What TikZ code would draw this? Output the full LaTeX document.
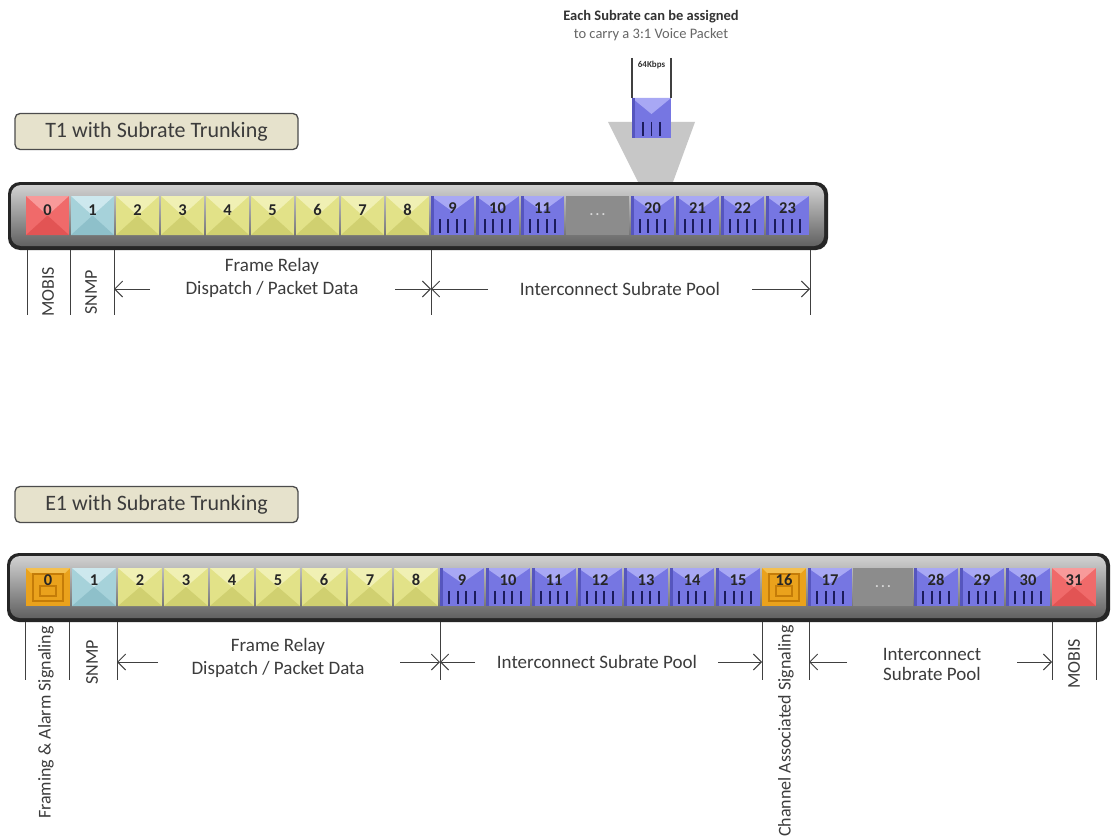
\documentclass[tikz,border=0pt]{standalone}
\usepackage{fontspec}
\setmainfont{Carlito}
\usetikzlibrary{arrows.meta}
\definecolor{txt}{HTML}{3c3c3c}
\definecolor{beige}{HTML}{E6E2CC}
\definecolor{rbase}{HTML}{F06A6A}\definecolor{rtop}{HTML}{F89A9A}\definecolor{rbot}{HTML}{E25454}
\definecolor{cbase}{HTML}{A6D2DA}\definecolor{ctop}{HTML}{CDE8EE}\definecolor{cbot}{HTML}{8EC0CA}
\definecolor{ybase}{HTML}{E2E288}\definecolor{ytop}{HTML}{F0F0B4}\definecolor{ybot}{HTML}{D0D070}
\definecolor{bbase}{HTML}{7676E2}\definecolor{btop}{HTML}{A8A8F4}\definecolor{bdark}{HTML}{5656BE}
\definecolor{obase}{HTML}{EAA21C}\definecolor{otop}{HTML}{F4C050}\definecolor{odark}{HTML}{C47C08}
\definecolor{gapgray}{HTML}{8C8C8C}
\definecolor{navy}{HTML}{1C1C5C}
\tikzset{
  lbl/.style={font=\fontsize{19}{21}\selectfont, text=txt, inner sep=0pt},
  rlbl/.style={font=\fontsize{18}{20}\selectfont, text=txt, inner sep=0pt, rotate=90},
  num/.style={font=\bfseries\fontsize{16.5}{18}\selectfont, text=black!85, inner sep=0pt},
  divider/.style={line width=0.9pt, draw=black!75},
  span/.style={-{Straight Barb[length=8pt,width=16pt,line width=0.9pt]}, line width=0.9pt, draw=black!75},
  tick/.style={line width=1.6pt, draw=navy},
  titlebox/.style={draw=black!70, line width=1.3pt, rounded corners=5pt, fill=beige,
    font=\fontsize{22}{24}\selectfont, text=txt, minimum width=283pt, minimum height=36pt, inner sep=0pt},
}
\newcommand{\pyrslot}[7]{%
  \fill[#5] (#1,#2) rectangle (#1+#3,#2+#4);
  \fill[#6] (#1,#2) -- (#1+#3,#2) -- (#1+#3/2,#2+#4/2) -- cycle;
  \fill[#7] (#1,#2+#4) -- (#1+#3,#2+#4) -- (#1+#3/2,#2+#4/2) -- cycle;}
\newcommand{\blueslot}[5]{%
  \fill[bbase] (#1,#2) rectangle (#1+#3,#2+#4);
  \fill[btop] (#1,#2) -- (#1+#3,#2) -- (#1+#3*0.5,#2+#4*0.4) -- cycle;
  \fill[bdark] (#1,#2) rectangle (#1+3,#2+#4);
  \foreach \k in {1,...,#5} \draw[tick] ({#1+#3*0.5+8.5*\k-8.5*#5/2-4.25}, {#2+#4*0.6}) -- ++(0,{#4*0.34});}
\newcommand{\oslot}[4]{%
  \fill[obase] (#1,#2) rectangle (#1+#3,#2+#4);
  \fill[otop] (#1,#2) -- (#1+#3,#2) -- (#1+#3-5,#2+5) -- (#1+5,#2+5) -- cycle;
  \draw[odark, line width=1.2pt] (#1+7,#2+6) rectangle (#1+#3-7,#2+#4-5);
  \draw[odark, line width=1.2pt] (#1+14,#2+18) rectangle (#1+#3-14,#2+#4-10);}
\newcommand{\tbar}[4]{%
  \fill[black!85, rounded corners=12pt] (#1,#2) rectangle (#3,#4);
  \shade[rounded corners=10pt, top color=black!18, middle color=black!40, bottom color=black!62]
    (#1+3,#2+3) rectangle (#3-4,#4-4);}
\begin{document}
\begin{tikzpicture}[x=1pt,y=-1pt]
\useasboundingbox (0,0) rectangle (1111,840);
\fill[white] (0,0) rectangle (1111,840);

% ---------- top annotation ----------
\node[font=\bfseries\fontsize{14.5}{16}\selectfont, text=black!80, inner sep=0pt] (each) at (651,17) {Each Subrate can be assigned};
\node[font=\fontsize{14.5}{16}\selectfont, text=black!60, inner sep=0pt] (carry) at (651,35) {to carry a 3:1 Voice Packet};
\fill[black!22] (608,122) -- (695,122) -- (673,182) -- (638,182) -- cycle;
\blueslot{632}{98}{39}{40}{3}
\coordinate (kA) at (632,58); \coordinate (kA2) at (632,98);
\coordinate (kB) at (671,58); \coordinate (kB2) at (671,98);
\draw[divider, line width=1.1pt] (kA) -- (kA2);
\draw[divider, line width=1.1pt] (kB) -- (kB2);
\node[font=\bfseries\fontsize{9}{10}\selectfont, text=black!80, inner sep=0pt] (kbps) at (651.5,65) {64Kbps};

% ---------- T1 ----------
\node[titlebox] (t1title) at (156.5,131.5) {T1 with Subrate Trunking};
\tbar{8}{182}{828}{250}
\fill[gapgray] (566,196) rectangle (629,235);
\node[font=\bfseries\fontsize{14}{16}\selectfont, text=black!15, inner sep=0pt] (tdots) at (597.5,215) {.\,.\,.};
\pyrslot{26}{196}{43}{39}{rbase}{rtop}{rbot}
\pyrslot{71}{196}{43}{39}{cbase}{ctop}{cbot}
\foreach \i in {2,...,8}{\pgfmathsetmacro\sx{26+45*\i}\pyrslot{\sx}{196}{43}{39}{ybase}{ytop}{ybot}}
\foreach \i in {9,10,11}{\pgfmathsetmacro\sx{431+45*(\i-9)}\blueslot{\sx}{196}{43}{39}{4}}
\foreach \i in {20,...,23}{\pgfmathsetmacro\sx{631+45*(\i-20)}\blueslot{\sx}{196}{43}{39}{4}}
\foreach \i in {0,...,8}{\node[num] (t\i) at ({47.5+45*\i},210) {\i};}
\foreach \i in {9,10,11}{\node[num] (t\i) at ({452.5+45*(\i-9)},208) {\i};}
\foreach \i in {20,...,23}{\node[num] (t\i) at ({652.5+45*(\i-20)},208) {\i};}

% dividers T1
\foreach \n/\x in {a/27,b/70,c/114,d/431,e/810}{
  \coordinate (tu\n) at (\x,250); \coordinate (tl\n) at (\x,315);
  \draw[divider] (tu\n) -- (tl\n);}
\node[rlbl] (tmobis) at (48,292) {MOBIS};
\node[rlbl] (tsnmp) at (91,292) {SNMP};
\node[lbl] (tfr) at (272,266) {Frame Relay};
\node[lbl] (tdp) at (272,289) {Dispatch / Packet Data};
\node[lbl] (tisp) at (620,289) {Interconnect Subrate Pool};
\coordinate (ta1) at (150,289); \coordinate (ta1e) at (114,289);
\coordinate (ta2) at (395,289); \coordinate (ta2e) at (431,289);
\coordinate (ta3) at (488,289); \coordinate (ta3e) at (431,289);
\coordinate (ta4) at (752,289); \coordinate (ta4e) at (810,289);
\draw[span] (ta1) -- (ta1e);
\draw[span] (ta2) -- (ta2e);
\draw[span] (ta3) -- (ta3e);
\draw[span] (ta4) -- (ta4e);

% ---------- E1 ----------
\node[titlebox] (e1title) at (156.5,504.5) {E1 with Subrate Trunking};
\tbar{7}{553}{1110}{622}
\fill[gapgray] (853,568) rectangle (913,606);
\node[font=\bfseries\fontsize{14}{16}\selectfont, text=black!15, inner sep=0pt] (edots) at (883,587) {.\,.\,.};
\oslot{26}{568}{44}{38}
\pyrslot{72}{568}{44}{38}{cbase}{ctop}{cbot}
\foreach \i in {2,...,8}{\pgfmathsetmacro\sx{26+46*\i}\pyrslot{\sx}{568}{44}{38}{ybase}{ytop}{ybot}}
\foreach \i in {9,...,15}{\pgfmathsetmacro\sx{26+46*\i}\blueslot{\sx}{568}{44}{38}{4}}
\oslot{762}{568}{44}{38}
\blueslot{808}{568}{44}{38}{4}
\foreach \i in {28,29,30}{\pgfmathsetmacro\sx{914+46*(\i-28)}\blueslot{\sx}{568}{44}{38}{4}}
\pyrslot{1052}{568}{44}{38}{rbase}{rtop}{rbot}
\foreach \i in {0,...,17}{\node[num] (e\i) at ({48+46*\i},580) {\i};}
\foreach \i in {28,...,31}{\node[num] (e\i) at ({936+46*(\i-28)},580) {\i};}

% dividers E1
\foreach \n/\x in {a/25,b/69,c/117,d/440,e/762,f/809,g/1052,h/1096}{
  \coordinate (eu\n) at (\x,622); \coordinate (el\n) at (\x,680);
  \draw[divider] (eu\n) -- (el\n);}
\node[rlbl, anchor=west] (efas) at (46,819) {Framing \& Alarm Signaling};
\node[rlbl] (esnmp) at (92,662) {SNMP};
\node[rlbl, anchor=west] (ecas) at (786,837) {Channel Associated Signaling};
\node[rlbl] (emobis) at (1074,664) {MOBIS};
\node[lbl] (efr) at (278,646) {Frame Relay};
\node[lbl] (edp) at (278,669) {Dispatch / Packet Data};
\node[lbl] (eisp) at (597,662) {Interconnect Subrate Pool};
\node[lbl, align=center] (eisp2) at (932,664) {Interconnect\\[-1pt]Subrate Pool};
\coordinate (ea1) at (158,662); \coordinate (ea1e) at (117,662);
\coordinate (ea2) at (400,662); \coordinate (ea2e) at (440,662);
\coordinate (ea3) at (475,662); \coordinate (ea3e) at (440,662);
\coordinate (ea4) at (718,662); \coordinate (ea4e) at (762,662);
\coordinate (ea5) at (847,662); \coordinate (ea5e) at (809,662);
\coordinate (ea6) at (1017,662); \coordinate (ea6e) at (1052,662);
\draw[span] (ea1) -- (ea1e);
\draw[span] (ea2) -- (ea2e);
\draw[span] (ea3) -- (ea3e);
\draw[span] (ea4) -- (ea4e);
\draw[span] (ea5) -- (ea5e);
\draw[span] (ea6) -- (ea6e);
\end{tikzpicture}
\end{document}
